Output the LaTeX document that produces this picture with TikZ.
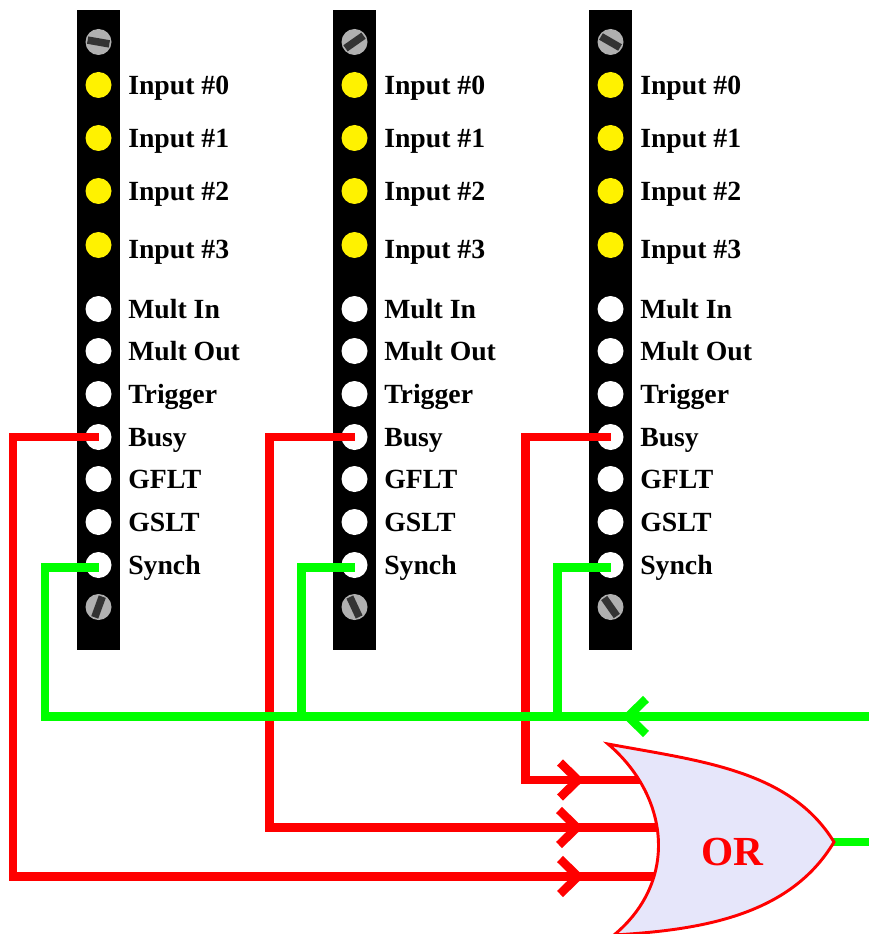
\documentclass[tikz,border=0pt]{standalone}
\usepackage{fontspec}
\setmainfont{Liberation Serif}
\definecolor{pure green}{RGB}{0,255,0}
\definecolor{gatefill}{RGB}{230,230,250}
\tikzset{
  x=0.75pt,y=-0.75pt,
  strip/.style={fill=black},
  led/.style={circle,inner sep=0pt,minimum size=19.5pt},
  yled/.style={led,fill=yellow},
  wled/.style={led,fill=white},
  screwhead/.style={led,fill=black!31},
  slot/.style={rectangle,inner sep=0pt,minimum width=16.5pt,minimum height=5.6pt,fill=black!80},
  lab/.style={anchor=base west,inner sep=0pt,font=\fontsize{20.8pt}{24pt}\selectfont\bfseries,text=black},
  redwire/.style={draw=red,line width=6.4pt,miter limit=10},
  greenwire/.style={draw=pure green,line width=6.4pt,miter limit=10},
  gate/.style={draw=red,fill=gatefill,line width=2.2pt,line join=miter},
  oplabel/.style={anchor=base,inner sep=0pt,font=\fontsize{31pt}{36pt}\selectfont\bfseries,text=red},
  pics/redchev/.style={code={\draw[redwire] (-18,-17.5) -- (0,0) -- (-18,17.5);}},
  pics/greenchev/.style={code={\draw[greenwire] (18,-17.5) -- (0,0) -- (18,17.5);}}
}
\begin{document}
\begin{tikzpicture}
\path[use as bounding box,clip] (0,0) rectangle (869,934);
\fill[white] (0,0) rectangle (869,934);
\foreach \c/\o/\ta/\ba in {a/0/-10/70,b/256/35/-65,c/512/-30/-55}{
  \begin{scope}[xshift=\o*0.75pt]
  \fill[strip] (77,10) rectangle (120,650);
  \node[screwhead] (top\c) at (98.5,42) {};
  \node[slot,rotate=\ta] (tops\c) at (98.5,42) {};
  \node[screwhead] (bot\c) at (98.5,607) {};
  \node[slot,rotate=\ba] (bots\c) at (98.5,607) {};
  \foreach \n/\y/\b/\t in {i0/85/94.6/{Input \#0},i1/138/147.6/{Input \#1},i2/191/200.4/{Input \#2},i3/245/258.2/{Input \#3}}{
    \node[yled] (\n\c) at (98.5,\y) {};
    \node[lab] (l\n\c) at (128,\b) {\t};
  }
  \foreach \n/\y/\b/\t in {mi/309/318/Mult In,mo/351/360/Mult Out,tr/394/403/Trigger,bu/437/446/Busy,gf/479/488/GFLT,gs/522/531/GSLT,sy/565/574/Synch}{
    \node[wled] (\n\c) at (98.5,\y) {};
    \node[lab] (l\n\c) at (128,\b) {\t};
  }
  \end{scope}
}
% endpoints
\coordinate (ra) at (98.5,437);
\coordinate (rb) at (354.5,437);
\coordinate (rc) at (610.5,437);
\coordinate (ga) at (98.5,567.5);
\coordinate (gb) at (354.5,567.5);
\coordinate (gc) at (610.5,567.5);
\coordinate (in1) at (650,780);
\coordinate (in2) at (665,827.5);
\coordinate (in3) at (665,876.5);
\coordinate (syncin) at (869,716.5);
\coordinate (orout) at (869,842);
\coordinate (gatetip) at (830,842);
% red wires
\draw[redwire] (ra) -- (13,437) -- (13,876.5) -- (in3);
\draw[redwire] (rb) -- (269.5,437) -- (269.5,827.5) -- (in2);
\draw[redwire] (rc) -- (525.5,437) -- (525.5,780) -- (in1);
\pic at (578,780) {redchev};
\pic at (577,827.5) {redchev};
\pic at (578,876.5) {redchev};
% green wires
\draw[greenwire] (ga) -- (45,567.5) -- (45,716.5) -- (syncin);
\draw[greenwire] (gb) -- (301.5,567.5) -- (301.5,716.5);
\draw[greenwire] (gc) -- (557.5,567.5) -- (557.5,716.5);
\pic at (628,716.5) {greenchev};
\draw[greenwire] (gatetip) -- (orout);
% gate
\draw[gate] (608,744) .. controls (700,761) and (790,770) .. (834,842)
  .. controls (790,916) and (700,930) .. (614,935)
  .. controls (680,880) and (668,795) .. cycle;
\node[oplabel] (orlabel) at (732.5,865) {OR};
\end{tikzpicture}
\end{document}
